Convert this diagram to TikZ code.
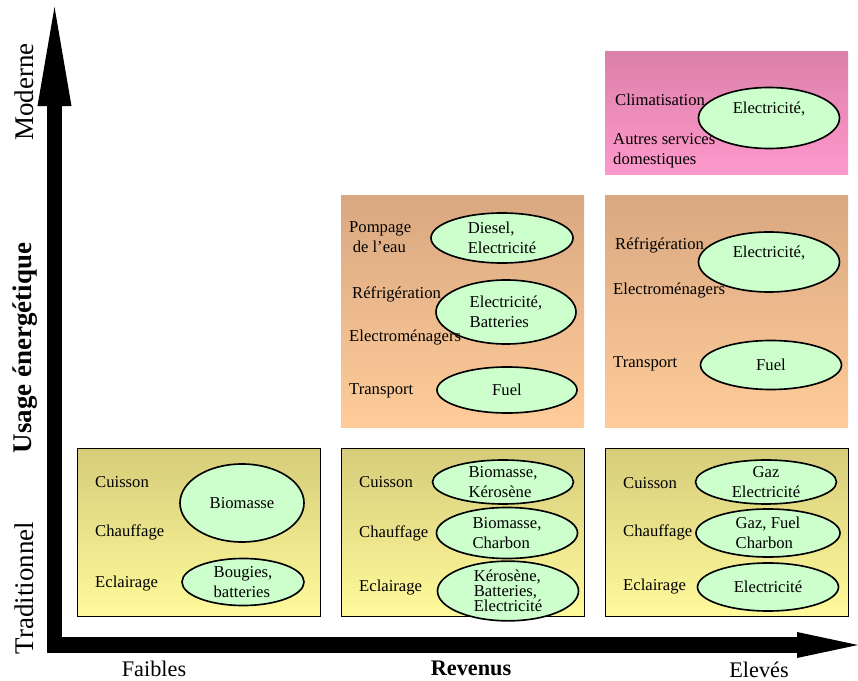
\documentclass[tikz,border=0pt]{standalone}
\usepackage{fontspec}
\setmainfont{Liberation Serif}
\usetikzlibrary{shapes.geometric,arrows.meta}

\definecolor{sourcegreen}{RGB}{204,255,204}
\definecolor{tradtop}{RGB}{214,204,122}
\definecolor{tradbot}{RGB}{255,250,155}
\definecolor{midtop}{RGB}{217,168,129}
\definecolor{midbot}{RGB}{255,204,153}
\definecolor{modtop}{RGB}{219,128,170}
\definecolor{modbot}{RGB}{255,153,204}

\begin{document}
\begin{tikzpicture}[x=0.03cm, y=-0.03cm,
  every node/.style={font=\fontsize{14.2}{17}\selectfont, inner sep=0pt},
  source/.style={ellipse, draw=black, line width=1.4pt, fill=sourcegreen, align=left},
  usage/.style={anchor=west, align=left},
  axislabel/.style={font=\fontsize{23}{26}\selectfont, rotate=90},
  revlabel/.style={font=\fontsize{19}{22}\selectfont}]

  \useasboundingbox (0,0) rectangle (858,681);

  % Panels (traditionnel)
  \foreach \x in {77,341,605} {
    \draw[line width=0.8pt, top color=tradtop, bottom color=tradbot] (\x,448) rectangle +(243,168);
  }
  % Panels (intermediaire, moderne)
  \fill[top color=midtop, bottom color=midbot] (341,196) rectangle (584,428);
  \fill[top color=midtop, bottom color=midbot] (605,196) rectangle (848,428);
  \fill[top color=modtop, bottom color=modbot] (605,52) rectangle (848,175);

  % Axes
  \coordinate (ytip) at (54.5,7);
  \coordinate (origin) at (54.5,645);
  \coordinate (xtip) at (858,645);
  \draw[line width=0.47cm, line join=miter,
    {Triangle[length=2.97cm, width=1.02cm, line width=0pt]}-{Triangle[length=1.83cm, width=0.78cm, line width=0pt]}]
    (ytip) -- (origin) -- (xtip);

  \node[axislabel] (moderne) at (24,92) {Moderne};
  \node[axislabel, font=\fontsize{23}{26}\selectfont\bfseries] (usage) at (25,348) {Usage énergétique};
  \node[axislabel] (tradi) at (24,588) {Traditionnel};
  \node[revlabel] (faibles) at (154,669) {Faibles};
  \node[revlabel, font=\fontsize{19}{22}\selectfont\bfseries] (revenus) at (471,668) {Revenus};
  \node[revlabel] (eleves) at (759,670) {Elevés};

  % Faibles revenus
  \node[source, align=center, minimum width=3.72cm, minimum height=2.34cm] (biomA) at (242,503) {Biomasse};
  \node[source, minimum width=3.66cm, minimum height=1.41cm] (bougA) at (243,582) {Bougies,\\batteries};
  \node[usage] (cuisA) at (95,482) {Cuisson};
  \node[usage] (chauA) at (95,532) {Chauffage};
  \node[usage] (eclaA) at (95,584) {Eclairage};

  % Revenus moyens
  \node[source, minimum width=4.23cm, minimum height=1.23cm] (cuisBs) at (503,482) {Biomasse,\\Kérosène};
  \node[source, minimum width=4.23cm, minimum height=1.53cm] (chauBs) at (507,533) {Biomasse,\\Charbon};
  \node[source, minimum width=4.23cm, minimum height=1.47cm,
    font=\fontsize{14.2}{13}\selectfont] (eclaBs) at (508,591) {Kérosène,\\Batteries,\\Electricité};
  \node[usage] (cuisB) at (359,482) {Cuisson};
  \node[usage] (chauB) at (359,533) {Chauffage};
  \node[usage] (eclaB) at (359,588) {Eclairage};

  \node[source, minimum width=4.26cm, minimum height=1.5cm] (pompBs) at (502,238) {Diesel,\\Electricité};
  \node[source, minimum width=4.2cm, minimum height=1.92cm] (refrBs) at (506,312) {Electricité,\\Batteries};
  \node[source, align=center, minimum width=4.2cm, minimum height=1.38cm] (tranBs) at (507,390) {Fuel};
  \node[usage] (pompB) at (349,237) {Pompage\\\hspace{3pt}de l'eau};
  \node[usage] (refrB) at (352,294) {Réfrigération};
  \node[usage] (elecB) at (349,338) {Electroménagers};
  \node[usage] (tranB) at (349,391) {Transport};

  % Revenus eleves
  \node[source, align=center, minimum width=4.23cm, minimum height=1.23cm] (cuisCs) at (766,482) {Gaz\\Electricité};
  \node[source, minimum width=4.32cm, minimum height=1.44cm] (chauCs) at (768,533) {Gaz, Fuel\\Charbon};
  \node[source, align=center, minimum width=4.23cm, minimum height=1.44cm] (eclaCs) at (768,587) {Electricité};
  \node[usage] (cuisC) at (623,483) {Cuisson};
  \node[usage] (chauC) at (623,532) {Chauffage};
  \node[usage] (eclaC) at (623,587) {Eclairage};

  \node[source, align=center, minimum width=4.23cm, minimum height=1.8cm] (refrCs) at (769,262) {Electricité,\\\mbox{}};
  \node[source, align=center, minimum width=4.23cm, minimum height=1.47cm] (tranCs) at (771,365) {Fuel};
  \node[usage] (refrC) at (615,245) {Réfrigération};
  \node[usage] (elecC) at (613,291) {Electroménagers};
  \node[usage] (tranC) at (613,364) {Transport};

  \node[source, align=center, minimum width=4.23cm, minimum height=1.83cm] (climCs) at (769,118) {Electricité,\\\mbox{}};
  \node[usage] (climC) at (615,100) {Climatisation};
  \node[usage] (autrC) at (613,151) {Autres services\\domestiques};
\end{tikzpicture}
\end{document}
